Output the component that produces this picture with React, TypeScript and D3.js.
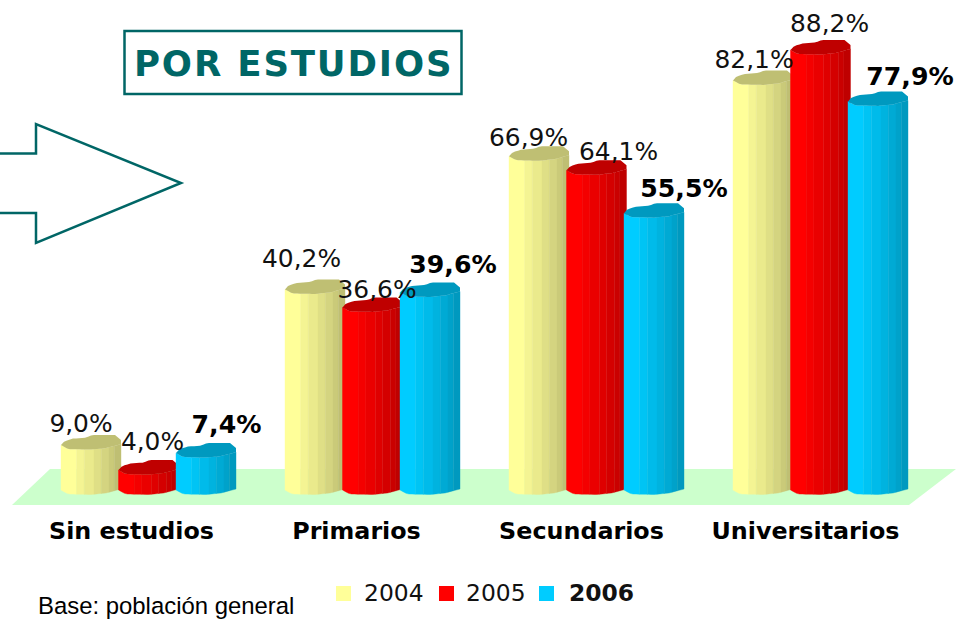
import React from 'react';
import * as d3 from 'd3';

const categories = ['Sin estudios', 'Primarios', 'Secundarios', 'Universitarios'];
const years = ['2004', '2005', '2006'];
const values2004 = [9.0, 40.2, 66.9, 82.1];
const values2005 = [4.0, 36.6, 64.1, 88.2];
const values2006 = [7.4, 39.6, 55.5, 77.9];
const seriesValues = [values2004, values2005, values2006];

const lightColors = ['#FFFF99', '#FF0000', '#00CCFF'];
const darkColors = ['#BFBF73', '#BF0000', '#0099BF'];

// hand placed labels, they sit around the cylinders rather than above them
const labelDx = [
  [-10, -13.5, -10.5, -9],
  [4, 4.5, 22, 9],
  [20.5, 23, 30, 32],
];
const labelDy = [
  [-15, -24, -12, -14],
  [-22, -11, -12, -20],
  [-22, -21, -18, -18],
];

const facetStops = [0, 0.26, 0.39, 0.55, 0.67, 0.8, 0.89, 1];
const legendSwatchX = [336, 439, 539];
const legendTextX = [364, 466, 569];

const width = 956;
const height = 619;
const barWidth = 60;
const teal = '#006666';
const valueFont = 'DejaVu Sans, Verdana, sans-serif';

const groupX = d3.scaleBand().domain(categories).range([61, 957]);
const seriesX = d3.scaleBand().domain(years).range([0, 172.5]);
const y = d3.scaleLinear().domain([0, 88.2]).range([492, 52]);

// vertical offset of the front rim and the back rim across the cylinder
const frontRim = d3.scaleLinear().domain([0, 0.12, 0.5, 0.75, 1]).range([-2, 2, 2.5, 1, -3]);
const backRim = d3.scaleLinear().domain([0, 0.06, 0.2, 0.42, 0.52, 0.9, 1]).range([-2, -6, -8.5, -9.5, -12, -12, -7]);
const rimSteps = d3.range(0, 1.001, 0.05);

const Cylinder = ({ x, value, series }: { x: number; value: number; series: number }) => {
  const shade = d3.scaleLinear<string>().domain([0, 1]).range([lightColors[series], darkColors[series]]);
  const top = y(value);
  const base = y(0);
  const rimPath = d3
    .line<[number, number]>()
    .x((d) => d[0])
    .y((d) => d[1])
    .curve(d3.curveLinearClosed)([
    ...rimSteps.map((f): [number, number] => [x + f * barWidth, top + frontRim(f)]),
    ...rimSteps
      .slice()
      .reverse()
      .map((f): [number, number] => [x + f * barWidth, top + backRim(f)]),
  ]);
  return (
    <g>
      {facetStops.slice(0, -1).map((f0, i) => {
        const f1 = facetStops[i + 1];
        const inner = rimSteps.filter((f) => f > f0 && f < f1);
        const across = [f0, ...inner, f1];
        const pts = [
          ...across.map((f) => `${x + f * barWidth},${top + frontRim(f)}`),
          ...across
            .slice()
            .reverse()
            .map((f) => `${x + f * barWidth},${base + frontRim(f)}`),
        ];
        const color = shade(i / (facetStops.length - 2));
        return <polygon key={i} points={pts.join(' ')} fill={color} stroke={color} strokeWidth={0.4} />;
      })}
      <path d={rimPath ?? ''} fill={darkColors[series]} />
    </g>
  );
};

export default function App() {
  return (
    <svg
      width={width}
      height={height}
      viewBox={`0 0 ${width} ${height}`}
      style={{ position: 'absolute', left: 0, top: 0, background: '#fff' }}
    >
      {/* title box and arrow */}
      <rect x={124.5} y={31} width={337} height={63} fill="none" stroke={teal} strokeWidth={2.5} />
      <text x={134} y={76} fontFamily={valueFont} fontWeight="bold" fontSize={35.5} letterSpacing={1.85} fill={teal}>
        POR ESTUDIOS
      </text>
      <path d="M0,153.5 H36 V124 L181,183 L36,243 V213 H0" fill="none" stroke={teal} strokeWidth={2.5} />

      {/* floor */}
      <polygon points="12,505 909,505 956,469 50,469" fill="#CCFFCC" />

      {seriesValues.map((vals, s) => (
        <g key={years[s]}>
          {vals.map((v, i) => (
            <Cylinder
              key={categories[i]}
              x={(groupX(categories[i]) ?? 0) + (seriesX(years[s]) ?? 0)}
              value={v}
              series={s}
            />
          ))}
        </g>
      ))}

      {seriesValues.map((vals, s) =>
        vals.map((v, i) => (
          <text
            key={`${s}-${i}`}
            x={(groupX(categories[i]) ?? 0) + (seriesX(years[s]) ?? 0) + barWidth / 2 + labelDx[s][i]}
            y={y(v) + labelDy[s][i]}
            textAnchor="middle"
            fontFamily={valueFont}
            fontSize={s === 2 ? 25.2 : 24.9}
            fontWeight={s === 2 ? 'bold' : 'normal'}
            fill={s === 2 ? '#000' : '#111'}
          >
            {v.toFixed(1).replace('.', ',')}%
          </text>
        )),
      )}

      {categories.map((c, i) => (
        <text
          key={c}
          x={[131.5, 356.5, 581.5, 805.5][i]}
          y={539}
          textAnchor="middle"
          fontFamily={valueFont}
          fontWeight="bold"
          fontSize={23.8}
          fill="#000"
        >
          {c}
        </text>
      ))}

      {years.map((yr, s) => (
        <g key={yr}>
          <rect x={legendSwatchX[s]} y={586} width={15} height={15} fill={lightColors[s]} />
          <text
            x={legendTextX[s]}
            y={601}
            fontFamily={valueFont}
            fontSize={23.4}
            fontWeight={s === 2 ? 'bold' : 'normal'}
            fill="#111"
          >
            {yr}
          </text>
        </g>
      ))}

      <text x={38} y={614} fontFamily="Liberation Sans, Arial, sans-serif" fontSize={23.9} fill="#000">
        Base: población general
      </text>
    </svg>
  );
}
